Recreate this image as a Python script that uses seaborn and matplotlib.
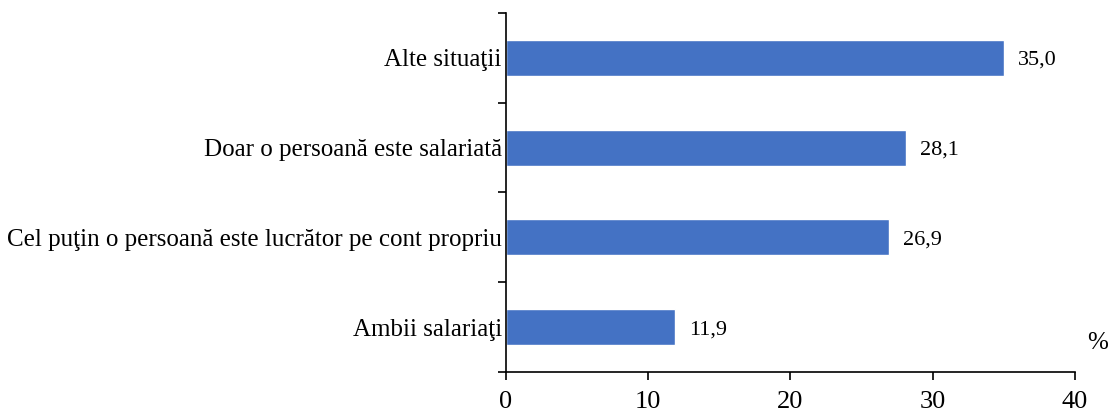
import numpy as np
import pandas as pd
import matplotlib
matplotlib.use('Agg')
import matplotlib.pyplot as plt
import seaborn as sns

# date
categories = ['Alte situaţii',
              'Doar o persoană este salariată',
              'Cel puţin o persoană este lucrător pe cont propriu',
              'Ambii salariaţi']
values = [35.0, 28.1, 26.9, 11.9]
xticks = [0, 10, 20, 30, 40]

df = pd.DataFrame({'cat': categories, 'val': values})

sns.set_style('white')
plt.rcParams['font.family'] = ['Liberation Serif', 'DejaVu Serif']
plt.rcParams['text.color'] = 'black'
plt.rcParams['xtick.color'] = 'black'
plt.rcParams['ytick.color'] = 'black'

fig = plt.figure(figsize=(11.09, 4.15), dpi=100)
ax = fig.add_axes([0.4563, 0.1036, 0.9693 - 0.4563, 0.9687 - 0.1036])

sns.barplot(data=df, x='val', y='cat', orient='h', color='#4472C4',
            width=0.4, saturation=1, ax=ax)

ax.set_xlim(0, 40)
ax.set_ylim(len(categories) - 0.5, -0.5)
ax.set_xticks(xticks)
ax.set_xticklabels([str(t) for t in xticks], fontsize=19)

# tick-uri pe axa y intre categorii, etichete la centru
ax.set_yticks(np.arange(-0.5, len(categories), 1.0))
ax.set_yticklabels([])
ax.set_yticks(np.arange(len(categories)), minor=True)
ax.set_yticklabels(categories, minor=True, fontsize=18)
ax.tick_params(axis='y', which='minor', length=0, pad=3)
ax.tick_params(axis='y', which='major', direction='out', length=6, width=1.2, left=True)
ax.tick_params(axis='x', direction='out', length=6, width=1.2, bottom=True, pad=7.5)

ax.set_xlabel('')
ax.set_ylabel('')

for s in ['top', 'right']:
    ax.spines[s].set_visible(False)
for s in ['left', 'bottom']:
    ax.spines[s].set_color('black')
    ax.spines[s].set_linewidth(1.2)

for i, v in enumerate(values):
    ax.annotate(f'{v:.1f}'.replace('.', ','), xy=(v, i), xytext=(10, 0),
                textcoords='offset points', va='center_baseline', ha='left', fontsize=16)

ax.text(1.04, 0.08, '%', transform=ax.transAxes, fontsize=18, ha='center', va='center')

fig.savefig('out.png', dpi=100)
